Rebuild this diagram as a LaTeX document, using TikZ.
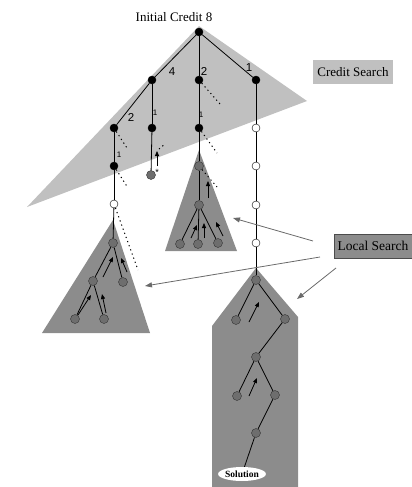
\documentclass[tikz,border=0pt]{standalone}
\usepackage{fontspec}
\setmainfont{Liberation Serif}
\newfontfamily\labelsans{Liberation Sans}
\usetikzlibrary{arrows.meta,shapes.geometric}
\definecolor{credgrey}{HTML}{C0C0C0}
\definecolor{localgrey}{HTML}{8C8C8C}
\definecolor{visitgrey}{HTML}{6E6E6E}
\definecolor{pointergrey}{HTML}{6A6A6A}
\tikzset{
  blk/.style={circle,fill=black,draw=black,inner sep=0pt,minimum size=8pt},
  wht/.style={circle,fill=white,draw=black,inner sep=0pt,minimum size=8pt},
  gry/.style={circle,fill=visitgrey,draw=black!80,inner sep=0pt,minimum size=9pt},
  edge/.style={draw=black,line width=0.8pt},
  skip/.style={draw=black,line width=1pt,dash pattern=on 1.2pt off 3.2pt},
  back/.style={draw=black,line width=0.8pt,-{Triangle[length=5pt,width=4pt]}},
  pointer/.style={draw=pointergrey,line width=0.8pt,-{Triangle[length=7pt,width=5pt]}},
  biglab/.style={font=\labelsans\fontsize{11.5}{12}\selectfont,inner sep=0pt},
  smalllab/.style={font=\labelsans\fontsize{8}{8}\selectfont,inner sep=0pt},
}
\begin{document}
\begin{tikzpicture}[x=1pt,y=-1pt]
\useasboundingbox (0,0) rectangle (412,487);
% shaded regions
\fill[credgrey] (199,26) -- (307,101) -- (27,207) -- cycle;
\fill[localgrey] (199,150) -- (237,251) -- (165,251) -- cycle;
\fill[localgrey] (113,220) -- (150,333) -- (42,333) -- cycle;
\fill[localgrey] (256,268) -- (298,317) -- (298,487) -- (212,487) -- (212,326) -- cycle;

% labels boxes
\node[fill=credgrey,inner sep=1pt,font=\fontsize{13}{14}\selectfont,minimum width=80pt,minimum height=23pt] (cs) at (353,72) {Credit Search};
\node[fill=localgrey,draw=black!70,line width=0.5pt,inner sep=1pt,font=\fontsize{13.5}{14}\selectfont,minimum width=78pt,minimum height=24pt] (ls) at (373,246) {Local Search};
\node[font=\fontsize{13}{14}\selectfont,inner sep=1pt] (title) at (174,17) {Initial Credit 8};

% credit search tree
\node[blk] (r) at (199,32) {};
\node[blk] (a) at (152,80) {};
\node[blk] (b) at (199,80) {};
\node[blk] (c) at (256,80) {};
\node[blk] (aa) at (114,128) {};
\node[blk] (ab) at (152,128) {};
\node[blk] (ba) at (199,128) {};
\node[wht] (ca) at (256,128) {};
\node[blk] (aaa) at (114,166) {};
\node[gry] (aba) at (151,175) {};
\node[gry] (baa) at (199,166) {};
\node[wht] (caa) at (256,166) {};
\node[wht] (aaaa) at (114,204) {};
\node[gry] (baaa) at (199,205) {};
\node[wht] (caaa) at (256,205) {};
\node[wht] (caaaa) at (256,243) {};

\draw[edge] (r) -- (a); \draw[edge] (r) -- (b); \draw[edge] (r) -- (c);
\draw[edge] (a) -- (aa); \draw[edge] (a) -- (ab);
\draw[edge] (b) -- (ba); \draw[edge] (c) -- (ca);
\draw[edge] (aa) -- (aaa) -- (aaaa);
\draw[edge] (ab) -- (aba);
\draw[edge] (ba) -- (baa) -- (baaa);
\draw[edge] (ca) -- (caa) -- (caaa) -- (caaaa);

% credit labels
\node[biglab] at (172,72) {4};
\node[biglab] at (204,71) {2};
\node[biglab] at (249,68) {1};
\node[biglab] at (131,117) {2};
\node[smalllab] at (155,113) {1};
\node[smalllab] at (201,115) {1};
\node[smalllab] at (119,155) {1};
\node[font=\labelsans\fontsize{9}{9}\selectfont,inner sep=0pt] at (157,172) {*};

% cut-off branches
\coordinate (d1) at (220,104);
\coordinate (d2) at (127,148);
\coordinate (d3) at (217,153);
\coordinate (d4) at (128,188);
\coordinate (d5) at (217,187);
\coordinate (d6) at (138,270);
\coordinate (d7s) at (159,149);
\coordinate (d7) at (165,144);
\draw[skip] (b) -- (d1);
\draw[skip] (aa) -- (d2);
\draw[skip] (ba) -- (d3);
\draw[skip] (aaa) -- (d4);
\draw[skip] (baa) -- (d5);
\draw[skip] (aaaa) -- (d6);
\draw[skip] (d7s) -- (d7);

% backtrack arrow in credit tree
\draw[back] (157,166) -- (157,151);

% middle local search
\node[gry] (m1) at (180,244) {};
\node[gry] (m2) at (198,244) {};
\node[gry] (m3) at (218,243) {};
\draw[edge] (baaa) -- (m1); \draw[edge] (baaa) -- (m2); \draw[edge] (baaa) -- (m3);
\draw[back] (208,198) -- (208,181);
\draw[back] (191,238) -- (197,225);
\draw[back] (204,238) -- (204,223);
\draw[back] (223,236) -- (216,222);

% left local search
\node[gry] (l0) at (113,243) {};
\node[gry] (l1) at (93,281) {};
\node[gry] (l2) at (123,282) {};
\node[gry] (l3) at (75,319) {};
\node[gry] (l4) at (104,319) {};
\draw[edge] (aaaa) -- (l0);
\draw[edge] (l0) -- (l1); \draw[edge] (l0) -- (l2);
\draw[edge] (l1) -- (l3); \draw[edge] (l1) -- (l4);
\draw[back] (103,277) -- (113,257);
\draw[back] (127,272) -- (121,258);
\draw[back] (78,315) -- (91,295);
\draw[back] (106,313) -- (102,294);

% right local search down to the solution
\node[gry] (p0) at (256,280) {};
\node[gry] (p1) at (236,320) {};
\node[gry] (p2) at (285,319) {};
\node[gry] (p3) at (256,357) {};
\node[gry] (p4) at (237,396) {};
\node[gry] (p5) at (275,395) {};
\node[gry] (p6) at (256,433) {};
\node[ellipse,fill=white,inner sep=0pt,minimum width=44pt,minimum height=14pt,font=\bfseries\fontsize{9.5}{9.5}\selectfont] (sol) at (242,474) {Solution};
\draw[edge] (caaaa) -- (p0);
\draw[edge] (p0) -- (p1); \draw[edge] (p0) -- (p2);
\draw[edge] (p2) -- (p3);
\draw[edge] (p3) -- (p4); \draw[edge] (p3) -- (p5);
\draw[edge] (p5) -- (p6);
\draw[edge] (p6) -- (sol);
\draw[back] (249,322) -- (259,302);
\draw[back] (249,396) -- (257,378);

% pointers from the local search label
\coordinate (t1) at (233,218);
\coordinate (t2) at (145,286);
\coordinate (t3) at (297,299);
\draw[pointer] (313,241) -- (t1);
\draw[pointer] (320,257) -- (t2);
\draw[pointer] (336,268) -- (t3);
\end{tikzpicture}
\end{document}
